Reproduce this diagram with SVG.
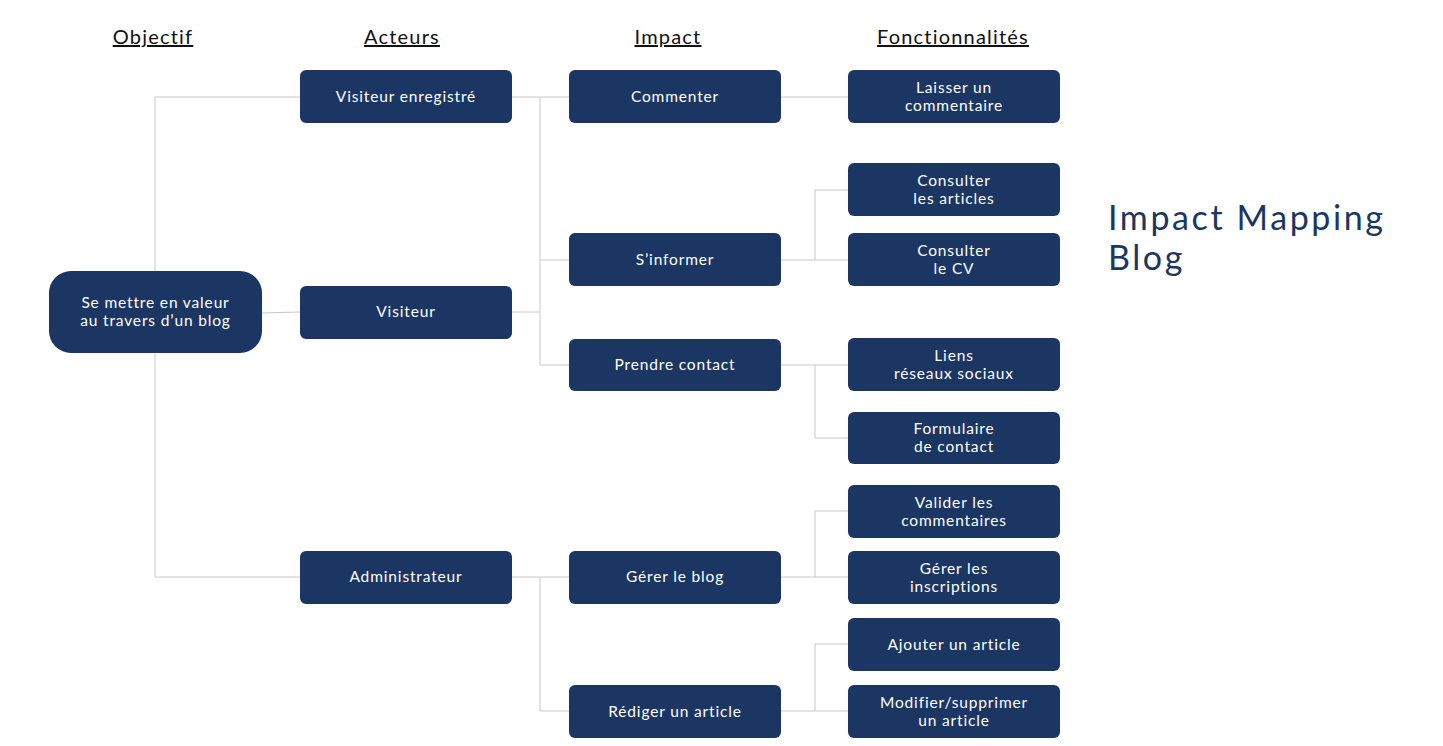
<svg xmlns="http://www.w3.org/2000/svg" width="1443" height="746" viewBox="0 0 1443 746">
<style>
.n{fill:#1b3663}
.t{fill:#ffffff;font-family:Lato,"Open Sans",sans-serif;font-size:15.5px;text-anchor:middle;letter-spacing:0.85px}
.h{fill:#111111;font-family:Lato,"Open Sans",sans-serif;font-size:20px;text-anchor:middle;text-decoration:underline;letter-spacing:1.2px}
.c{stroke:#c8c8c8;stroke-width:1;fill:none}
.ti{fill:#1b3663;font-family:Lato,"Open Sans",sans-serif;font-size:34px;letter-spacing:2.6px}
</style>
<rect width="1443" height="746" fill="#ffffff"/>
<g id="headers">
<text class="h" x="153" y="44">Objectif</text>
<text class="h" x="402" y="44">Acteurs</text>
<text class="h" x="668" y="44">Impact</text>
<text class="h" x="953" y="44">Fonctionnalités</text>
</g>
<g id="connectors">
<path class="c" d="M155 97 V577 M155 97 H300 M155 577 H300 M262 313 L300 312"/>
<path class="c" d="M512 97 H569 M540 97 V365 M540 260 H569 M540 365 H569 M512 312 H540"/>
<path class="c" d="M512 577 H569 M540 577 V711 H569"/>
<path class="c" d="M781 97 H848"/>
<path class="c" d="M781 260 H848 M815 260 V190 H848"/>
<path class="c" d="M781 365 H848 M815 365 V438 H848"/>
<path class="c" d="M781 577 H848 M815 577 V511 H848"/>
<path class="c" d="M781 711 H848 M815 711 V644 H848"/>
</g>
<g id="root"><rect class="n" x="49" y="271" width="213" height="82" rx="22"/><text class="t" x="155.5" y="308">Se mettre en valeur</text><text class="t" x="155.5" y="326">au travers d’un blog</text></g>
<g id="visiteur-enregistre"><rect class="n" x="300" y="70" width="212" height="53" rx="6"/><text class="t" x="406" y="102">Visiteur enregistré</text></g>
<g id="visiteur"><rect class="n" x="300" y="286" width="212" height="53" rx="6"/><text class="t" x="406" y="317">Visiteur</text></g>
<g id="administrateur"><rect class="n" x="300" y="551" width="212" height="53" rx="6"/><text class="t" x="406" y="582">Administrateur</text></g>
<g id="commenter"><rect class="n" x="569" y="70" width="212" height="53" rx="6"/><text class="t" x="675" y="102">Commenter</text></g>
<g id="sinformer"><rect class="n" x="569" y="233" width="212" height="53" rx="6"/><text class="t" x="675" y="265">S’informer</text></g>
<g id="prendre-contact"><rect class="n" x="569" y="339" width="212" height="52" rx="6"/><text class="t" x="675" y="370">Prendre contact</text></g>
<g id="gerer-blog"><rect class="n" x="569" y="551" width="212" height="53" rx="6"/><text class="t" x="675" y="582">Gérer le blog</text></g>
<g id="rediger"><rect class="n" x="569" y="685" width="212" height="53" rx="6"/><text class="t" x="675" y="717">Rédiger un article</text></g>
<g id="laisser"><rect class="n" x="848" y="70" width="212" height="53" rx="6"/><text class="t" x="954" y="93">Laisser un</text><text class="t" x="954" y="111">commentaire</text></g>
<g id="consulter-articles"><rect class="n" x="848" y="163" width="212" height="53" rx="6"/><text class="t" x="954" y="186">Consulter</text><text class="t" x="954" y="204">les articles</text></g>
<g id="consulter-cv"><rect class="n" x="848" y="233" width="212" height="53" rx="6"/><text class="t" x="954" y="256">Consulter</text><text class="t" x="954" y="274">le CV</text></g>
<g id="liens"><rect class="n" x="848" y="338" width="212" height="53" rx="6"/><text class="t" x="954" y="361">Liens</text><text class="t" x="954" y="379">réseaux sociaux</text></g>
<g id="formulaire"><rect class="n" x="848" y="412" width="212" height="52" rx="6"/><text class="t" x="954" y="434">Formulaire</text><text class="t" x="954" y="452">de contact</text></g>
<g id="valider"><rect class="n" x="848" y="485" width="212" height="53" rx="6"/><text class="t" x="954" y="508">Valider les</text><text class="t" x="954" y="526">commentaires</text></g>
<g id="gerer-inscriptions"><rect class="n" x="848" y="551" width="212" height="53" rx="6"/><text class="t" x="954" y="574">Gérer les</text><text class="t" x="954" y="592">inscriptions</text></g>
<g id="ajouter"><rect class="n" x="848" y="618" width="212" height="53" rx="6"/><text class="t" x="954" y="650">Ajouter un article</text></g>
<g id="modifier"><rect class="n" x="848" y="685" width="212" height="53" rx="6"/><text class="t" x="954" y="708">Modifier/supprimer</text><text class="t" x="954" y="726">un article</text></g>
<g id="title">
<text class="ti" x="1108" y="230">Impact Mapping</text>
<text class="ti" x="1108" y="270">Blog</text>
</g>
</svg>
